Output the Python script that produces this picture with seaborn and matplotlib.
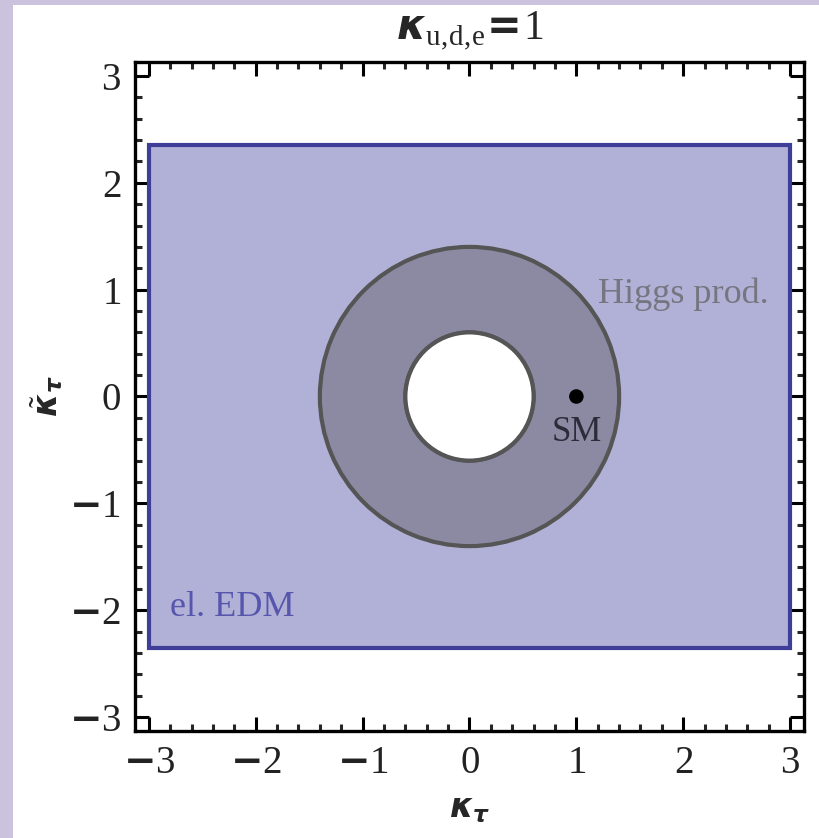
import numpy as np
import pandas as pd
import seaborn as sns
import matplotlib
matplotlib.use("Agg")
import matplotlib.pyplot as plt
from matplotlib.patches import Rectangle, Wedge, Circle

# Bounds on the tau Yukawa couplings (kappa_tau, kappa_tilde_tau)
edm_kappa = [-3.0, 3.0]          # electron EDM allowed band, kappa_tau range
edm_kappa_tilde = [-2.35, 2.35]  # electron EDM allowed band, kappa_tilde_tau range
higgs_radius_outer = 1.40        # Higgs production annulus, outer radius
higgs_radius_inner = 0.60        # Higgs production annulus, inner radius
sm_kappa = [1.0]                 # Standard Model point
sm_kappa_tilde = [0.0]
tick_values = [-3, -2, -1, 0, 1, 2, 3]

sns.set_theme(style="ticks")
plt.rcParams["font.family"] = ["Liberation Serif", "DejaVu Sans"]
plt.rcParams["mathtext.fontset"] = "custom"
plt.rcParams["mathtext.rm"] = "Liberation Serif"
plt.rcParams["mathtext.it"] = "DejaVu Sans:italic:bold"
plt.rcParams["mathtext.bf"] = "DejaVu Sans:bold"

fig = plt.figure(figsize=(8.19, 8.38), dpi=100)
fig.patch.set_facecolor("white")
frame_col = "#cbc3de"
fig.patches.append(Rectangle((0, 0), 0.0159, 1, transform=fig.transFigure,
                             facecolor=frame_col, edgecolor="none", zorder=-10))
fig.patches.append(Rectangle((0, 0.994), 1, 0.006, transform=fig.transFigure,
                             facecolor=frame_col, edgecolor="none", zorder=-10))

ax = fig.add_axes([0.1648, 0.1277, 0.8169, 0.7983])
ax.set_facecolor("white")

# electron EDM region
ax.add_patch(Rectangle((edm_kappa[0], edm_kappa_tilde[0]),
                       edm_kappa[1] - edm_kappa[0],
                       edm_kappa_tilde[1] - edm_kappa_tilde[0],
                       facecolor="#b1b1d7", edgecolor="#3e3e99", lw=3.0, zorder=1))

# Higgs production annulus
ax.add_patch(Wedge((0, 0), higgs_radius_outer, 0, 360,
                   width=higgs_radius_outer - higgs_radius_inner,
                   facecolor="#8b8aa2", edgecolor="#555555", lw=3.0, zorder=2))
ax.add_patch(Circle((0, 0), higgs_radius_inner, facecolor="white",
                    edgecolor="#555555", lw=3.0, zorder=2))

sm = pd.DataFrame({"k": sm_kappa, "kt": sm_kappa_tilde})
sns.scatterplot(data=sm, x="k", y="kt", ax=ax, color="black", s=110,
                edgecolor="none", zorder=5, legend=False)
ax.set_xlabel("")
ax.set_ylabel("")

ax.text(sm_kappa[0], sm_kappa_tilde[0] - 0.34, "SM", ha="center", va="center",
        fontsize=25, color="#2b2b3a", zorder=6)
ax.text(1.2, 0.96, "Higgs prod.", ha="left", va="center",
        fontsize=26, color="#767680", zorder=6)
ax.text(-2.8, -1.97, "el. EDM", ha="left", va="center",
        fontsize=26, color="#5656ad", zorder=6)

ax.set_xlim(-3.13, 3.13)
ax.set_ylim(-3.13, 3.13)

def fmt(v):
    return r"$\mathbf{-}\mathrm{%d}$" % abs(v) if v < 0 else r"$\mathrm{%d}$" % v

ax.set_xticks(tick_values)
ax.set_yticks(tick_values)
ax.set_xticklabels([fmt(v) for v in tick_values])
ax.set_yticklabels([fmt(v) for v in tick_values])
ax.set_xticks(np.arange(-3.0, 3.01, 0.2), minor=True)
ax.set_yticks(np.arange(-3.0, 3.01, 0.2), minor=True)
ax.tick_params(which="major", direction="in", length=10, width=2.2,
               top=True, right=True, labelsize=28, colors="black",
               labelcolor="#222222", pad=10)
ax.tick_params(which="minor", direction="in", length=5, width=2.2,
               top=True, right=True)
for s in ax.spines.values():
    s.set_linewidth(2.4)
    s.set_color("black")
    s.set_visible(True)

fig.text(0.574, 0.034, r"$\kappa_{\tau}$", fontsize=24, ha="center", va="center")
fig.text(0.057, 0.527, r"$\tilde{\kappa}_{\tau}$", fontsize=24, ha="center",
         va="center", rotation=90)
fig.text(0.574, 0.962,
         r"$\kappa_{\mathrm{u,\!d,\!e}}\!\mathbf{=}\!\mathrm{1}$",
         fontsize=30, ha="center", va="center")

fig.savefig("out.png", dpi=100, facecolor=fig.get_facecolor())
